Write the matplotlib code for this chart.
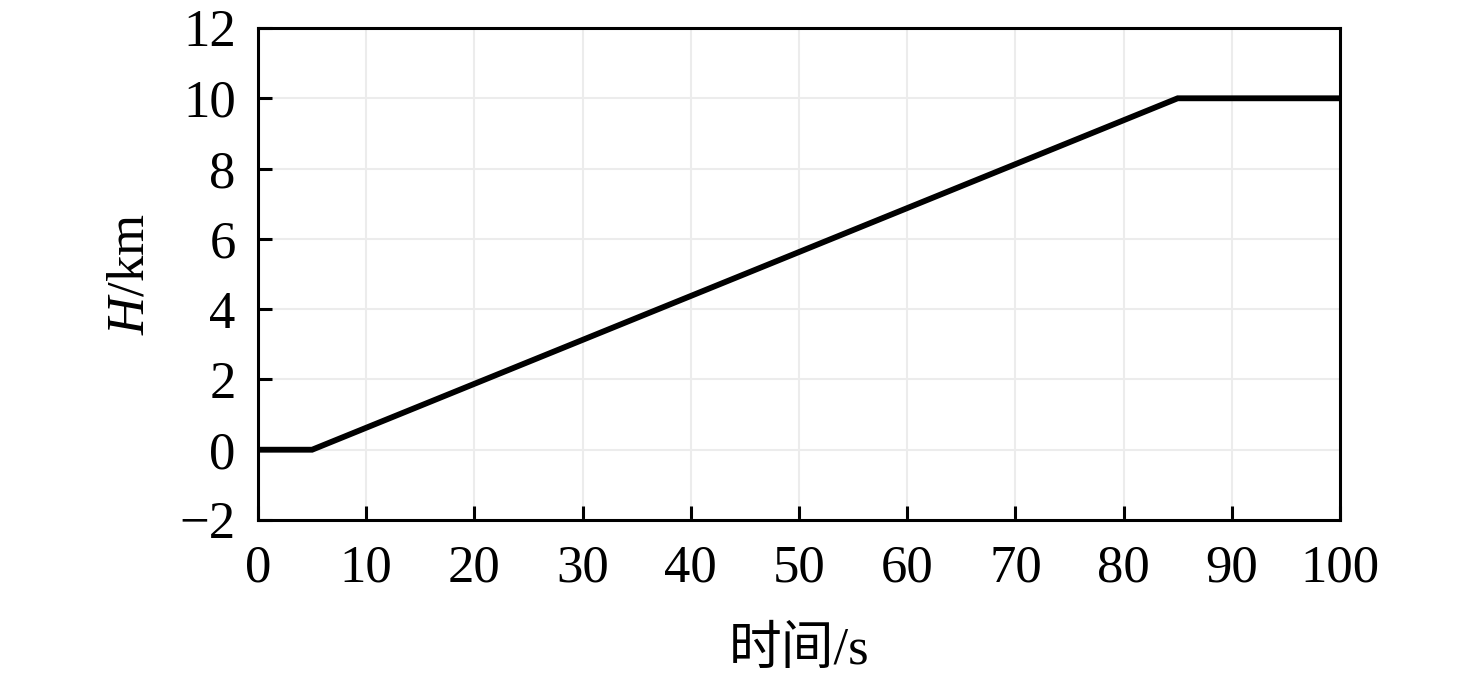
import matplotlib
matplotlib.use("Agg")
import matplotlib.pyplot as plt

time_s = [0, 5, 85, 100]
height_km = [0, 0, 10, 10]
xticks = [0, 10, 20, 30, 40, 50, 60, 70, 80, 90, 100]
yticks = [-2, 0, 2, 4, 6, 8, 10, 12]

plt.rcParams['font.family'] = ['Liberation Serif', 'Noto Sans CJK SC']
plt.rcParams['mathtext.fontset'] = 'custom'
plt.rcParams['mathtext.it'] = 'Liberation Serif:italic'
plt.rcParams['mathtext.rm'] = 'Liberation Serif'

fig = plt.figure(figsize=(14.76, 6.8), dpi=100)
ax = fig.add_axes([258/1476, 1-520/680, (1340-258)/1476, (520-28)/680])
ax.plot(time_s, height_km, color='black', lw=4.2, solid_joinstyle='miter')
ax.set_xlim(0, 100)
ax.set_ylim(-2, 12)
ax.set_xticks(xticks)
ax.set_yticks(yticks)
ax.grid(True, color='#ececec', lw=1.5)
ax.set_axisbelow(True)
for s in ax.spines.values():
    s.set_linewidth(2.2)
ax.tick_params(direction='in', length=10, width=2.2, labelsize=38)
ax.tick_params(axis='x', pad=18)
ax.tick_params(axis='y', pad=16)
ax.set_xlabel('时间/s', fontsize=38, labelpad=24)
ax.set_ylabel('$H$/km', fontsize=38, labelpad=18)
fig.savefig('out.png', dpi=100)
